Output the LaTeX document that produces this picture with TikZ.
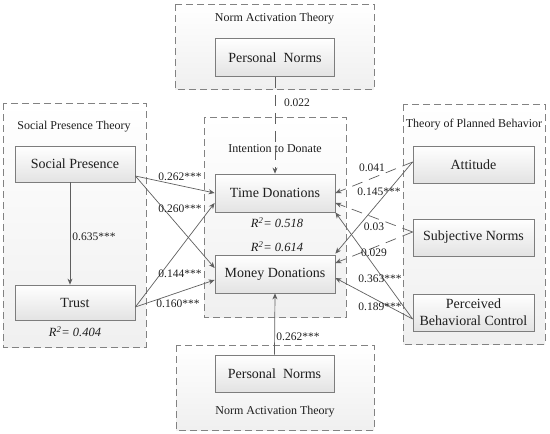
\documentclass[tikz,border=0pt]{standalone}
\usepackage{fontspec}
\setmainfont{Liberation Serif}
\usetikzlibrary{arrows.meta,calc}
\definecolor{linecol}{RGB}{95,95,95}
\definecolor{boxcol}{RGB}{125,125,125}
\definecolor{grpcol}{RGB}{130,130,130}
\definecolor{txtcol}{RGB}{30,30,30}
\tikzset{
  group/.style={draw=grpcol, line width=0.8pt, dash pattern=on 7pt off 4pt, top color=white, bottom color=gray!12},
  construct/.style={draw=boxcol, line width=0.8pt, top color=white, bottom color=gray!22, minimum width=120pt, minimum height=37pt, inner sep=0pt, font=\fontsize{14}{16}\selectfont, text=txtcol, align=center},
  grplabel/.style={font=\fontsize{12}{14}\selectfont, text=txtcol, inner sep=0pt},
  coef/.style={font=\fontsize{11.5}{13}\selectfont, text=txtcol, inner sep=0pt},
  rsq/.style={font=\fontsize{12.5}{14}\selectfont\itshape, text=txtcol, inner sep=0pt},
  path/.style={draw=linecol, line width=0.7pt, -{Stealth[length=6pt,width=5pt]}},
  nspath/.style={path, dash pattern=on 11pt off 7pt}
}
\begin{document}
\begin{tikzpicture}[x=1pt,y=-1pt]
\useasboundingbox (0,0) rectangle (550,434);
% groups
\path[group] (175,4) rectangle (374,89);
\path[group] (3,103) rectangle (146,347);
\path[group] (204,117) rectangle (346,317);
\path[group] (403,104) rectangle (545,344);
\path[group] (176,345) rectangle (374,430);
% group labels
\node[grplabel] (lnat1) at (274.5,19) {Norm Activation Theory};
\node[grplabel] (lspt) at (74,127) {Social Presence Theory};
\node[grplabel] (lint) at (275,149) {Intention to Donate};
\node[grplabel] (ltpb) at (474,125) {Theory of Planned Behavior};
\node[grplabel] (lnat2) at (275,412) {Norm Activation Theory};
% constructs
\node[construct, minimum width=119pt, minimum height=38pt] (pn1) at (275,57.5) {Personal~ Norms};
\node[construct, minimum height=36pt] (sp) at (75,164) {Social Presence};
\node[construct, minimum height=35pt] (tr) at (75,302.5) {Trust};
\node[construct, minimum height=38pt] (td) at (275,193) {Time Donations};
\node[construct, minimum height=38pt] (md) at (275,274) {Money Donations};
\node[construct, minimum width=119pt] (pn2) at (274.5,373.5) {Personal~ Norms};
\node[construct, minimum width=121pt] (at) at (473.5,164.5) {Attitude};
\node[construct, minimum width=121pt] (sn) at (473.5,237.5) {Subjective Norms};
\node[construct, minimum width=121pt, font=\fontsize{14}{17}\selectfont] (pbc) at (473.5,312.5) {Perceived\\Behavioral Control};
% R squared
\node[rsq] (r1) at (75,332) {R\textsuperscript{2}= 0.404};
\node[rsq] (r2) at (277,223) {R\textsuperscript{2}= 0.518};
\node[rsq] (r3) at (277,247) {R\textsuperscript{2}= 0.614};
% paths
\draw[nspath] (pn1.south) -- (td.north);
\draw[path] (pn2.north) -- (md.south);
\draw[path] ($(sp.south)+(-5,0)$) -- ($(tr.north)+(-5,0)$);
\draw[path] ($(sp.east)+(0,12)$) -- (td.west);
\draw[path] ($(sp.east)+(0,12)$) -- ($(md.west)+(0,-6)$);
\draw[path] ($(tr.east)+(0,4.5)$) -- ($(td.west)+(0,10)$);
\draw[path] ($(tr.east)+(0,4.5)$) -- ($(md.west)+(0,6)$);
\draw[nspath] ($(at.west)+(0,-2.5)$) -- (td.east);
\draw[path] ($(at.west)+(0,-2.5)$) -- ($(md.north east)+(0,-1)$);
\draw[nspath] ($(sn.west)+(0,-5.5)$) -- ($(td.east)+(0,10)$);
\draw[nspath] ($(sn.west)+(0,-5.5)$) -- ($(md.east)+(0,-11)$);
\draw[path] ($(pbc.west)+(0,6.5)$) -- (td.south east);
\draw[path] ($(pbc.west)+(0,6.5)$) -- ($(md.east)+(0,4)$);
% coefficients
\node[coef] (c1) at (297,103) {0.022};
\node[coef] (c2) at (298,337) {0.262***};
\node[coef] (c3) at (94,237) {0.635***};
\node[coef] (c4) at (180,177) {0.262***};
\node[coef] (c5) at (180,209) {0.260***};
\node[coef] (c6) at (180,274) {0.144***};
\node[coef] (c7) at (178,304) {0.160***};
\node[coef] (c8) at (372,168) {0.041};
\node[coef] (c9) at (379,192) {0.145***};
\node[coef] (c10) at (374,227) {0.03};
\node[coef] (c11) at (374,253) {0.029};
\node[coef] (c12) at (380,279) {0.363***};
\node[coef] (c13) at (380,307) {0.189***};
\end{tikzpicture}
\end{document}
